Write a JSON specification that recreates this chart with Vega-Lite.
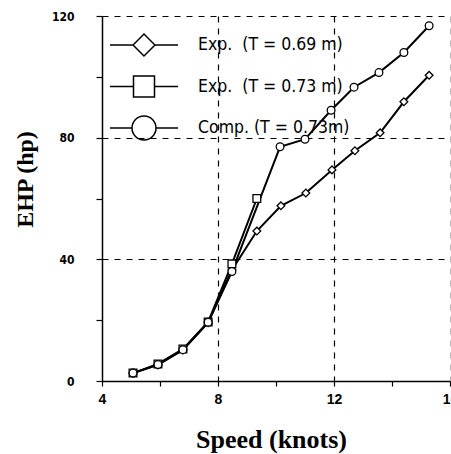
{
  "$schema": "https://vega.github.io/schema/vega-lite/v6.json",
  "width": 348,
  "height": 365,
  "autosize": "none",
  "padding": {"left": 102, "top": 16, "right": 1, "bottom": 73},
  "background": "white",
  "config": {"view": {"stroke": null}},
  "data": {"values": [
    {"s": "Exp.\u00a0\u00a0(T = 0.69 m)", "x": 5.07, "y": 2.6},
    {"s": "Exp.\u00a0\u00a0(T = 0.69 m)", "x": 5.93, "y": 5.3},
    {"s": "Exp.\u00a0\u00a0(T = 0.69 m)", "x": 6.79, "y": 10.2},
    {"s": "Exp.\u00a0\u00a0(T = 0.69 m)", "x": 7.66, "y": 19.2},
    {"s": "Exp.\u00a0\u00a0(T = 0.69 m)", "x": 8.48, "y": 36.5},
    {"s": "Exp.\u00a0\u00a0(T = 0.69 m)", "x": 9.34, "y": 49.3},
    {"s": "Exp.\u00a0\u00a0(T = 0.69 m)", "x": 10.17, "y": 57.6},
    {"s": "Exp.\u00a0\u00a0(T = 0.69 m)", "x": 11.03, "y": 61.8},
    {"s": "Exp.\u00a0\u00a0(T = 0.69 m)", "x": 11.93, "y": 69.4},
    {"s": "Exp.\u00a0\u00a0(T = 0.69 m)", "x": 12.72, "y": 75.7},
    {"s": "Exp.\u00a0\u00a0(T = 0.69 m)", "x": 13.59, "y": 81.6},
    {"s": "Exp.\u00a0\u00a0(T = 0.69 m)", "x": 14.41, "y": 91.8},
    {"s": "Exp.\u00a0\u00a0(T = 0.69 m)", "x": 15.28, "y": 100.5},
    {"s": "Exp.\u00a0\u00a0(T = 0.73 m)", "x": 5.07, "y": 2.6},
    {"s": "Exp.\u00a0\u00a0(T = 0.73 m)", "x": 5.93, "y": 5.6},
    {"s": "Exp.\u00a0\u00a0(T = 0.73 m)", "x": 6.79, "y": 10.5},
    {"s": "Exp.\u00a0\u00a0(T = 0.73 m)", "x": 7.66, "y": 19.4},
    {"s": "Exp.\u00a0\u00a0(T = 0.73 m)", "x": 8.48, "y": 38.5},
    {"s": "Exp.\u00a0\u00a0(T = 0.73 m)", "x": 9.34, "y": 60},
    {"s": "Comp. (T = 0.73m)", "x": 5.07, "y": 2.6},
    {"s": "Comp. (T = 0.73m)", "x": 5.93, "y": 5.4},
    {"s": "Comp. (T = 0.73m)", "x": 6.79, "y": 10.3},
    {"s": "Comp. (T = 0.73m)", "x": 7.66, "y": 19.3},
    {"s": "Comp. (T = 0.73m)", "x": 8.48, "y": 36.0},
    {"s": "Comp. (T = 0.73m)", "x": 10.14, "y": 77},
    {"s": "Comp. (T = 0.73m)", "x": 11.0, "y": 79.5},
    {"s": "Comp. (T = 0.73m)", "x": 11.9, "y": 89},
    {"s": "Comp. (T = 0.73m)", "x": 12.69, "y": 96.6},
    {"s": "Comp. (T = 0.73m)", "x": 13.55, "y": 101.4},
    {"s": "Comp. (T = 0.73m)", "x": 14.41, "y": 108},
    {"s": "Comp. (T = 0.73m)", "x": 15.28, "y": 116.8}
  ]},
  "encoding": {
    "x": {
      "field": "x", "type": "quantitative",
      "scale": {"domain": [4, 16], "nice": false, "zero": false},
      "axis": {
        "title": "Speed (knots)",
        "titleFont": "Liberation Serif", "titleFontSize": 26, "titleFontWeight": "bold", "titleColor": "black",
        "titleX": 169, "titleY": 66, "titleBaseline": "alphabetic", "titleAlign": "center",
        "values": [4, 6, 8, 10, 12, 14, 16],
        "labelExpr": "datum.value % 4 === 0 ? datum.label : ''",
        "labelFont": "Liberation Sans", "labelFontSize": 14, "labelFontWeight": "bold", "labelColor": "black",
        "labelPadding": 6, "labelFlush": false, "labelOverlap": false, "labelBound": false,
        "domainColor": "black", "domainWidth": 1.5,
        "tickColor": "black", "tickSize": 5, "tickWidth": 1.2,
        "grid": true,
        "gridColor": {"condition": {"test": "datum.value === 16", "value": "#bbbbbb"}, "value": "black"},
        "gridOpacity": {"condition": {"test": "datum.value % 4 !== 0 || datum.value === 4", "value": 0}, "value": 1},
        "gridDash": [6, 6], "gridWidth": 1.2
      }
    },
    "y": {
      "field": "y", "type": "quantitative",
      "scale": {"domain": [0, 120], "nice": false},
      "axis": {
        "title": "EHP (hp)",
        "titleFont": "Liberation Serif", "titleFontSize": 24, "titleFontWeight": "bold", "titleColor": "black",
        "titleX": -77, "titleY": 163, "titleAlign": "center", "titleBaseline": "middle", "titleAngle": -90,
        "values": [0, 20, 40, 60, 80, 100, 120],
        "labelExpr": "datum.value % 40 === 0 ? datum.label : ''",
        "labelFont": "DejaVu Sans Condensed", "labelFontSize": 12, "labelFontWeight": "bold", "labelColor": "black",
        "labelPadding": 22,
        "domainColor": "black", "domainWidth": 1.5,
        "tickColor": "black", "tickSize": 6, "tickWidth": 1.2,
        "grid": true,
        "gridColor": "black",
        "gridOpacity": {"condition": {"test": "datum.value % 40 !== 0 || datum.value === 0", "value": 0}, "value": 1},
        "gridDash": [6, 6], "gridWidth": 1.2
      }
    }
  },
  "layer": [
    {
      "mark": {"type": "line", "color": "black", "strokeWidth": 2},
      "encoding": {"detail": {"field": "s"}}
    },
    {
      "mark": {"type": "point", "filled": false, "stroke": "black", "strokeWidth": 1.3, "fill": "white", "fillOpacity": 1, "opacity": 1, "size": 60},
      "encoding": {
        "shape": {
          "field": "s", "type": "nominal",
          "scale": {"domain": ["Exp.\u00a0\u00a0(T = 0.69 m)", "Exp.\u00a0\u00a0(T = 0.73 m)", "Comp. (T = 0.73m)"], "range": ["diamond", "square", "circle"]},
          "legend": null
        }
      }
    },
    {
      "transform": [{"filter": "datum.x > 100"}],
      "mark": {"type": "point", "filled": false, "stroke": "black", "strokeWidth": 1.5, "opacity": 1},
      "encoding": {
        "shape": {
          "field": "s", "type": "nominal",
          "scale": {
            "domain": ["Exp.\u00a0\u00a0(T = 0.69 m)", "Exp.\u00a0\u00a0(T = 0.73 m)", "Comp. (T = 0.73m)"],
            "range": [
              "M-2.27,0L-0.73,0M0.73,0L2.27,0M-0.73,0L0,-0.73L0.73,0L0,0.73Z",
              "M-2.27,0L-0.7,0M0.7,0L2.27,0M-0.7,-0.7L0.7,-0.7L0.7,0.7L-0.7,0.7Z",
              "M-2.27,0L-0.8,0M0.8,0L2.27,0M-0.8,0A0.8,0.8,0,1,1,0.8,0A0.8,0.8,0,1,1,-0.8,0Z"
            ]
          },
          "legend": {
            "title": null,
            "orient": "none", "legendX": 26, "legendY": 13,
            "padding": 0,
            "symbolSize": 900, "symbolOpacity": 1,
            "symbolStrokeColor": "black", "symbolStrokeWidth": 1.5, "symbolFillColor": "transparent",
            "labelFont": "DejaVu Sans Condensed", "labelFontSize": 17.5, "labelColor": "black",
            "labelOffset": 38, "rowPadding": 11.5,
            "labelLimit": 300
          }
        }
      }
    }
  ],
  "resolve": {"scale": {"shape": "independent"}}
}
